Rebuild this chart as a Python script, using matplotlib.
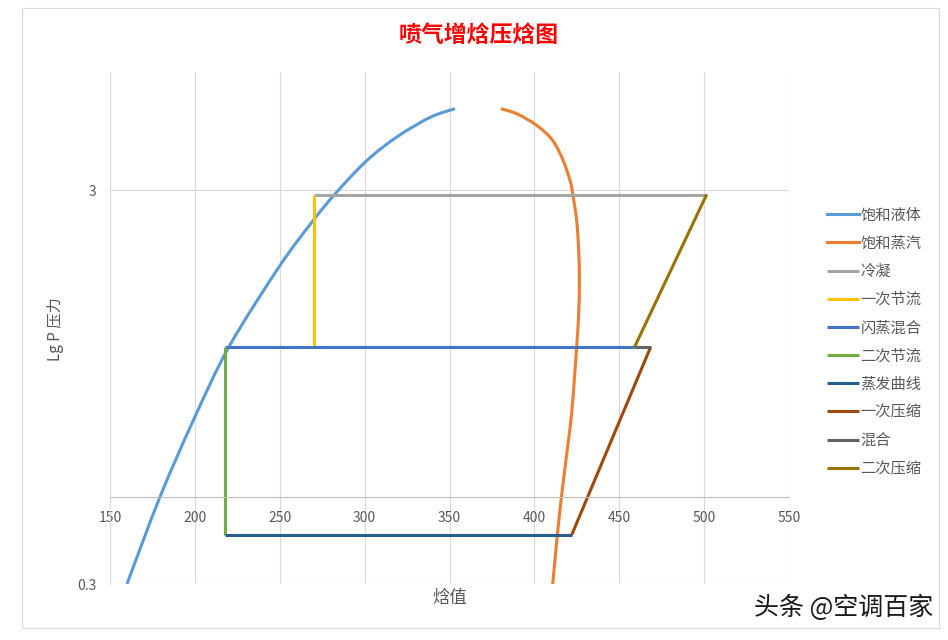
import matplotlib
matplotlib.use('Agg')
import numpy as np
import matplotlib.pyplot as plt
from matplotlib.patches import Rectangle, PathPatch
from matplotlib.path import Path
from matplotlib.lines import Line2D
from matplotlib.ticker import FixedLocator, NullLocator, FixedFormatter

plt.rcParams['font.family'] = ['Noto Sans CJK SC', 'DejaVu Sans']

# ---- data (enthalpy h, pressure P) ----
liquid_h = [160, 179.5, 199, 220, 250, 269.8, 283.5, 301.2, 318.9, 338.5, 353.2]
liquid_p = [0.3, 0.5, 0.78, 1.2, 1.93, 2.52, 2.97, 3.57, 4.1, 4.6, 4.84]

vapor_h = [380.2, 389.6, 401.4, 410.8, 417.0, 421.0, 422.6, 424.9, 426.1, 426.5,
           426.1, 424.9, 422.0, 418.0, 414.6, 410.8]
vapor_p = [4.84, 4.70, 4.39, 4.02, 3.57, 3.18, 2.94, 2.52, 2.11, 1.77,
           1.46, 1.2, 0.82, 0.59, 0.444, 0.3]

cond_h = [270, 501.5]
cond_p = [2.93, 2.93]

throttle1_h = [270, 270]
throttle1_p = [2.93, 1.2]

flash_h = [218, 459]
flash_p = [1.2, 1.2]

throttle2_h = [218, 218]
throttle2_p = [1.2, 0.4]

evap_h = [218, 422]
evap_p = [0.4, 0.4]

comp1_h = [422, 468.5]
comp1_p = [0.4, 1.2]

mix_h = [468.5, 459]
mix_p = [1.2, 1.2]

comp2_h = [459, 501.5]
comp2_p = [1.2, 2.93]

series_names = ['饱和液体', '饱和蒸汽', '冷凝', '一次节流', '闪蒸混合', '二次节流',
                '蒸发曲线', '一次压缩', '混合', '二次压缩']
series_colors = ['#5B9BD5', '#ED7D31', '#A5A5A5', '#FFC000', '#4472C4', '#70AD47',
                 '#255E91', '#9E480E', '#636363', '#997300']
series_data = [(liquid_h, liquid_p), (vapor_h, vapor_p), (cond_h, cond_p),
               (throttle1_h, throttle1_p), (flash_h, flash_p), (throttle2_h, throttle2_p),
               (evap_h, evap_p), (comp1_h, comp1_p), (mix_h, mix_p), (comp2_h, comp2_p)]
smoothed = [True, True, False, False, False, False, False, False, False, False]

x_ticks = [150, 200, 250, 300, 350, 400, 450, 500, 550]
y_ticks = [0.3, 3]
y_tick_labels = ['0.3', '3']

W, H = 948, 640
LW = 2.2


def smooth_path(hx, py):
    """Excel-like smoothed line: Catmull-Rom segments as cubic Beziers in (h, log10 P) space."""
    x = np.asarray(hx, float)
    y = np.log10(np.asarray(py, float))
    sx = (789 - 110) / 400.0
    sy = (584 - 72) / np.log10(6 / 0.3)
    X, Y = x * sx, y * sy
    n = len(X)
    verts = [(X[0], Y[0])]
    codes = [Path.MOVETO]
    t = 1.0 / 6.0
    for i in range(n - 1):
        x0, y0 = (X[i - 1], Y[i - 1]) if i > 0 else (X[i], Y[i])
        x3, y3 = (X[i + 2], Y[i + 2]) if i + 2 < n else (X[i + 1], Y[i + 1])
        c1 = (X[i] + (X[i + 1] - x0) * t, Y[i] + (Y[i + 1] - y0) * t)
        c2 = (X[i + 1] - (x3 - X[i]) * t, Y[i + 1] - (y3 - Y[i]) * t)
        verts += [c1, c2, (X[i + 1], Y[i + 1])]
        codes += [Path.CURVE4] * 3
    v = np.array(verts)
    v[:, 0] = v[:, 0] / sx
    v[:, 1] = 10 ** (v[:, 1] / sy)
    return Path(v, codes)


fig = plt.figure(figsize=(W / 100, H / 100), dpi=100)

# chart border
fig.patches.append(Rectangle((22 / W, 1 - 628 / H), (939 - 22) / W, (628 - 8) / H,
                             transform=fig.transFigure, fill=False,
                             edgecolor='#D9D9D9', lw=0.8))

ax = fig.add_axes([110 / W, 1 - 584 / H, (789 - 110) / W, (584 - 72) / H])
ax.set_yscale('log')
ax.set_xlim(150, 550)
ax.set_ylim(0.3, 6)
ax.yaxis.set_major_locator(FixedLocator(y_ticks))
ax.yaxis.set_minor_locator(NullLocator())
ax.yaxis.set_major_formatter(FixedFormatter(y_tick_labels))
ax.xaxis.set_major_locator(FixedLocator(x_ticks))

ax.grid(True, color='#D9D9D9', lw=0.8)
ax.set_axisbelow(True)
for s in ['top', 'right']:
    ax.spines[s].set_visible(False)
ax.spines['left'].set_color('#D9D9D9')
ax.spines['left'].set_linewidth(0.8)
ax.spines['bottom'].set_position(('data', 0.5))
ax.spines['bottom'].set_color('#BFBFBF')
ax.spines['bottom'].set_linewidth(0.8)
ax.tick_params(axis='both', length=0, labelcolor='#595959', labelsize=10)
ax.tick_params(axis='x', pad=10.5)
ax.tick_params(axis='y', pad=10)

handles = []
for name, color, (hx, py), sm in zip(series_names, series_colors, series_data, smoothed):
    if sm:
        patch = PathPatch(smooth_path(hx, py), fill=False, edgecolor=color, lw=LW,
                          capstyle='butt', joinstyle='round')
        ax.add_patch(patch)
        handles.append(Line2D([], [], color=color, lw=LW, label=name))
    else:
        ln, = ax.plot(hx, py, color=color, lw=LW, label=name, solid_joinstyle='round',
                      solid_capstyle='butt')
        handles.append(ln)

ax.legend(handles=handles, loc='upper left', bbox_to_anchor=(819 / W, 1 - 199 / H),
          bbox_transform=fig.transFigure, frameon=False, fontsize=11,
          labelcolor='#595959', handlelength=2.1, handletextpad=0.12,
          labelspacing=0.73, borderpad=0)

fig.text(479 / W, 1 - 35 / H, '喷气增焓压焓图', ha='center', va='center',
         fontsize=16.5, fontweight='bold', color='#FF0000')
fig.text(449.5 / W, 1 - 598 / H, '焓值', ha='center', va='center',
         fontsize=12.5, color='#595959')
fig.text(56 / W, 1 - 329 / H, 'Lg P 压力', ha='center', va='center', rotation=90,
         fontsize=11, color='#595959')
fig.text(933 / W, 1 - 608 / H, '头条 @空调百家', ha='right', va='center',
         fontsize=18, color='#1A1A1A')

fig.savefig('out.png', dpi=100)
